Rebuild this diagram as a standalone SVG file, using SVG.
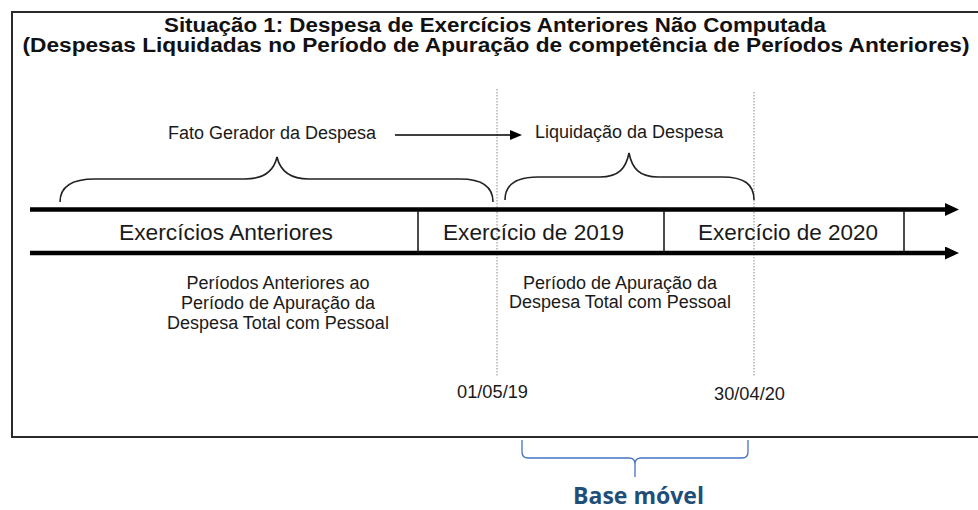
<svg xmlns="http://www.w3.org/2000/svg" width="978" height="510" viewBox="0 0 978 510">
  <defs>
    <style>
      .t{font-family:"Liberation Sans",Arial,sans-serif;fill:#1a1a1a}
      .title{font-size:19.5px;font-weight:bold;fill:#111}
      .big{font-size:22px}
      .small{font-size:18px}
      .brace{fill:none;stroke:#222;stroke-width:1.6}
      .thick{stroke:#000;stroke-width:4.5}
      .div{stroke:#111;stroke-width:1.5}
      .dot{stroke:#8a8a8a;stroke-width:1;stroke-dasharray:1.5 1.5}
      .blue{fill:none;stroke:#4472C4;stroke-width:1.3}
    </style>
    <marker id="bigHead" viewBox="0 0 14 13" refX="0" refY="6.5" markerWidth="14" markerHeight="13" markerUnits="userSpaceOnUse" orient="auto">
      <path d="M0,0 L14,6.5 L0,13 Z" fill="#000"/>
    </marker>
    <marker id="smallHead" viewBox="0 0 12 10" refX="0" refY="5" markerWidth="12" markerHeight="10" markerUnits="userSpaceOnUse" orient="auto">
      <path d="M0,0 L12,5 L0,10 Z" fill="#000"/>
    </marker>
  </defs>
  <rect width="978" height="510" fill="#fff"/>

  <g id="frame">
    <rect x="12" y="12" width="980" height="425" fill="none" stroke="#2a2a2a" stroke-width="2"/>
  </g>

  <g id="title">
    <text class="t title" x="495" y="32" text-anchor="middle" textLength="662" lengthAdjust="spacingAndGlyphs">Situação 1: Despesa de Exercícios Anteriores Não Computada</text>
    <text class="t title" x="496" y="52" text-anchor="middle" textLength="947" lengthAdjust="spacingAndGlyphs">(Despesas Liquidadas no Período de Apuração de competência de Períodos Anteriores)</text>
  </g>

  <g id="connectors">
    <line class="dot" x1="497" y1="89" x2="497" y2="377"/>
    <line class="dot" x1="754" y1="92" x2="754" y2="376"/>
    <line class="thick" x1="30" y1="209.5" x2="945" y2="209.5" marker-end="url(#bigHead)"/>
    <line class="thick" x1="30" y1="253" x2="945" y2="253" marker-end="url(#bigHead)"/>
    <line class="div" x1="418" y1="210" x2="418" y2="253"/>
    <line class="div" x1="664" y1="210" x2="664" y2="253"/>
    <line class="div" x1="904" y1="210" x2="904" y2="253"/>
    <line x1="395" y1="135" x2="510" y2="135" stroke="#000" stroke-width="1.5" marker-end="url(#smallHead)"/>
    <path class="brace" d="M60,202 C60,186 72,179 95,179 L245,179 C265,179 274,170 277,157 C280,170 289,179 309,179 L460,179 C482,179 493,186 493,202"/>
    <path class="brace" d="M505,200 C505,184 516,177 538,177 L600,177 C619,177 626,168 629,153 C632,168 639,177 658,177 L722,177 C744,177 754,184 754,200"/>
    <path class="blue" d="M522,440 L522,452 Q522,458 528,458 L629,458 Q635,458 635,464 L635,477 M635,464 Q635,458 641,458 L742,458 Q748,458 748,452 L748,440"/>
  </g>

  <g id="fato-gerador">
    <text class="t small" x="168" y="139">Fato Gerador da Despesa</text>
  </g>
  <g id="liquidacao">
    <text class="t small" x="535" y="138">Liquidação da Despesa</text>
  </g>

  <g id="exercicios-anteriores">
    <text class="t big" x="226" y="240" text-anchor="middle" textLength="214" lengthAdjust="spacingAndGlyphs">Exercícios Anteriores</text>
  </g>
  <g id="exercicio-2019">
    <text class="t big" x="533.5" y="240" text-anchor="middle" textLength="181" lengthAdjust="spacingAndGlyphs">Exercício de 2019</text>
  </g>
  <g id="exercicio-2020">
    <text class="t big" x="788" y="240" text-anchor="middle" textLength="180" lengthAdjust="spacingAndGlyphs">Exercício de 2020</text>
  </g>

  <g id="periodos-anteriores">
    <text class="t small" x="278" y="289" text-anchor="middle">Períodos Anteriores ao</text>
    <text class="t small" x="278" y="309" text-anchor="middle">Período de Apuração da</text>
    <text class="t small" x="278" y="329" text-anchor="middle">Despesa Total com Pessoal</text>
  </g>

  <g id="periodo-apuracao">
    <text class="t small" x="620" y="289" text-anchor="middle">Período de Apuração da</text>
    <text class="t small" x="620" y="308" text-anchor="middle">Despesa Total com Pessoal</text>
  </g>

  <g id="data-inicio">
    <text class="t small" x="492.5" y="398" text-anchor="middle" textLength="71" lengthAdjust="spacingAndGlyphs">01/05/19</text>
  </g>
  <g id="data-fim">
    <text class="t small" x="749.5" y="400" text-anchor="middle" textLength="71" lengthAdjust="spacingAndGlyphs">30/04/20</text>
  </g>

  <g id="base-movel">
    <text x="638.5" y="504" text-anchor="middle" font-family="'Open Sans','Noto Sans',sans-serif" font-weight="700" font-size="22.5" fill="#1F4E79" textLength="131" lengthAdjust="spacingAndGlyphs">Base móvel</text>
  </g>
</svg>
